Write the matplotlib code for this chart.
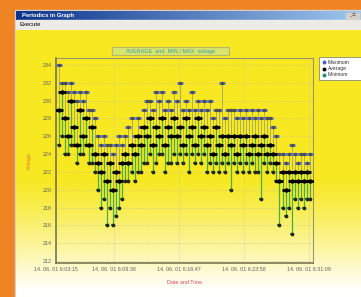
import numpy as np
import matplotlib
matplotlib.use("Agg")
import matplotlib.pyplot as plt
from matplotlib.patches import Rectangle

# ---- data ----
sample_step_s = 20
sample_index = list(range(1, 85))
avg_v = [229, 231, 228, 226, 230, 227, 225, 229, 226, 228,
         225, 227, 224, 223, 222, 224, 221, 223, 220, 222,
         221, 223, 224, 223, 225, 224, 226, 225, 227, 226,
         228, 225, 227, 226, 228, 225, 227, 226, 228, 226,
         227, 225, 228, 226, 227, 225, 228, 226, 227, 225,
         226, 224, 227, 225, 226, 224, 226, 225, 226, 224,
         226, 225, 226, 224, 225, 226, 224, 225, 226, 224,
         225, 224, 223, 221, 222, 220, 222, 221, 222, 221,
         222, 221, 222, 221]
max_v = [234, 232, 232, 231, 232, 231, 230, 231, 230, 231,
         229, 229, 228, 226, 225, 226, 225, 225, 224, 225,
         226, 225, 226, 227, 228, 226, 228, 227, 229, 230,
         230, 229, 231, 230, 231, 229, 230, 229, 231, 230,
         232, 229, 230, 229, 231, 229, 230, 229, 230, 229,
         230, 228, 229, 229, 232, 228, 229, 229, 229, 228,
         229, 228, 229, 228, 229, 228, 229, 228, 229, 228,
         228, 227, 226, 224, 224, 223, 224, 225, 224, 223,
         224, 224, 223, 224]
min_v = [225, 226, 224, 224, 225, 225, 223, 224, 224, 225,
         223, 223, 222, 220, 218, 219, 216, 218, 216, 217,
         218, 219, 221, 221, 222, 221, 222, 222, 223, 223,
         224, 222, 223, 224, 224, 222, 223, 223, 224, 223,
         224, 223, 224, 222, 224, 223, 224, 223, 224, 222,
         223, 222, 223, 222, 223, 222, 223, 220, 223, 222,
         223, 222, 223, 222, 223, 222, 222, 219, 223, 222,
         223, 222, 221, 216, 218, 217, 218, 215, 219, 218,
         219, 218, 219, 219]
tick_seconds = [0, 381, 812, 1243, 1674]
tick_labels = ["14. 06. 01 6:03:15", "14. 06. 01 6:09:36", "14. 06. 01 6:16:47",
               "14. 06. 01 6:23:58", "14. 06. 01 6:31:09"]
y_ticks = list(range(212, 236, 2))
legend_names = ["Maximum", "Average", "Minimum"]

t = np.array(sample_index) * sample_step_s
avg_a = np.array(avg_v); max_a = np.array(max_v); min_a = np.array(min_v)

W, H = 361, 297
fig = plt.figure(figsize=(W / 100, H / 100), dpi=100)
fig.patch.set_facecolor("#EE8424")
FONT = "Liberation Sans"

# ---- window chrome (pixel coordinates) ----
bg = fig.add_axes([0, 0, 1, 1])
bg.set_xlim(0, W); bg.set_ylim(H, 0); bg.axis("off")
bg.add_patch(Rectangle((0, 0), W, H, color="#EE8424", zorder=0))
bg.add_patch(Rectangle((15, 10), W - 15, H - 10, color="#D4D0C8", zorder=1))
# title bar gradient
tb = np.linspace(0, 1, 256)[None, :]
c0 = np.array([0.05, 0.20, 0.55]); c1 = np.array([0.62, 0.78, 0.93])
tbimg = c0[None, None, :] * (1 - tb[..., None]) + c1[None, None, :] * tb[..., None]
bg.imshow(tbimg, extent=(16, W, 20, 11), aspect="auto", zorder=2)
bg.text(22, 15.5, "Periodics in Graph", color="white", fontsize=4.2, fontweight="bold",
        va="center", ha="left", family=FONT, zorder=3)
bg.add_patch(Rectangle((346, 12.5), 13, 6.5, color="#D4D0C8", zorder=3))
bg.text(352, 15.8, "_ □", fontsize=3.2, va="center", ha="center", family=FONT, zorder=4)
# menu bar
bg.add_patch(Rectangle((16, 20), W - 16, 10, color="#ECEBE6", zorder=2))
bg.text(20, 25, "Execute", color="black", fontsize=4.2, va="center", ha="left",
        family=FONT, zorder=3)
# client gradient yellow -> white
gy = np.linspace(0, 1, 300)
prof = np.clip((gy - 0.55) / 0.42, 0, 1) ** 1.2
top = np.array([0.97, 0.91, 0.13]); bot = np.array([1.0, 1.0, 0.99])
gimg = top[None, :] * (1 - prof[:, None]) + bot[None, :] * prof[:, None]
bg.imshow(gimg[:, None, :].repeat(4, axis=1), extent=(16, W, H, 30), aspect="auto",
          zorder=2, interpolation="bilinear", origin="upper")

# title box
bg.add_patch(Rectangle((112, 46.5), 117, 8.5, facecolor="#D7E56A", edgecolor="#B9B86A",
                       lw=0.8, zorder=3))
bg.text(170.5, 51, "AVERAGE  and  MIN / MAX  voltage", color="#3E9FB0", fontsize=4.0,
        va="center", ha="center", family=FONT, zorder=4)

# legend box
bg.add_patch(Rectangle((319, 57), 44, 23, facecolor="white", edgecolor="#8A8A70",
                       lw=0.6, zorder=3))
leg_colors = ["#4060D0", "black", "#208878"]
for k, (nm, cc) in enumerate(zip(legend_names, leg_colors)):
    yy = 62 + k * 6.5
    bg.plot([324], [yy], marker="o", ms=1.8, color=cc, zorder=4)
    bg.text(328, yy, nm, fontsize=3.6, va="center", ha="left", color="#303030",
            family=FONT, zorder=4)

# ---- plot area ----
L, R, T, B = 56, 313, 58, 263
ax = fig.add_axes([L / W, 1 - B / H, (R - L) / W, (B - T) / H])
ax.set_facecolor("none")
ax.set_xlim(0, (R - L) / 0.151)
ax.set_ylim(212 - 2 / 8.9, 234 + 7 / 8.9)

ax.vlines(t, min_a, avg_a, color="#48B040", lw=0.9, zorder=2)
ax.vlines(t, avg_a, max_a, color="#A0A860", lw=0.6, zorder=2)
ax.plot(t, max_a, ls="none", marker="_", ms=4, mew=2.0, color="#5868D8", zorder=3)
ax.plot(t, max_a, ls="none", marker="o", ms=1.5, color="#505040", zorder=4)
ax.plot(t, min_a, ls="none", marker="_", ms=3.5, mew=1.5, color="#2E962E", zorder=3)
ax.plot(t, min_a, ls="none", marker="o", ms=1.7, color="#282820", zorder=4)
ax.plot(t, avg_a, ls="none", marker="_", ms=5.5, mew=2.0, color="black", zorder=5)
ax.plot(t, avg_a, ls="none", marker="o", ms=2.2, color="black", zorder=5)

ax.set_xticks(tick_seconds)
ax.set_xticklabels(tick_labels, family=FONT, fontsize=3.9, color="#606060")
ax.set_yticks(y_ticks)
ax.set_yticklabels([str(v) for v in y_ticks], family=FONT, fontsize=3.9, color="#606060")
ax.tick_params(length=0, pad=3)
ax.grid(True, ls=(0, (1, 1.5)), color="#C4C0A0", lw=0.5, zorder=0)
for s in ["left", "bottom"]:
    ax.spines[s].set_color("#6E6A4A"); ax.spines[s].set_linewidth(1.1)
for s in ["top", "right"]:
    ax.spines[s].set_color("#9A9470"); ax.spines[s].set_linewidth(0.8)
ax.set_ylabel("Voltage", family=FONT, fontsize=3.9, color="#E07830", labelpad=8)
ax.set_xlabel("Date and Time", family=FONT, fontsize=3.9, color="#E04060", labelpad=6)

fig.savefig("out.png", dpi=100, facecolor=fig.get_facecolor())
